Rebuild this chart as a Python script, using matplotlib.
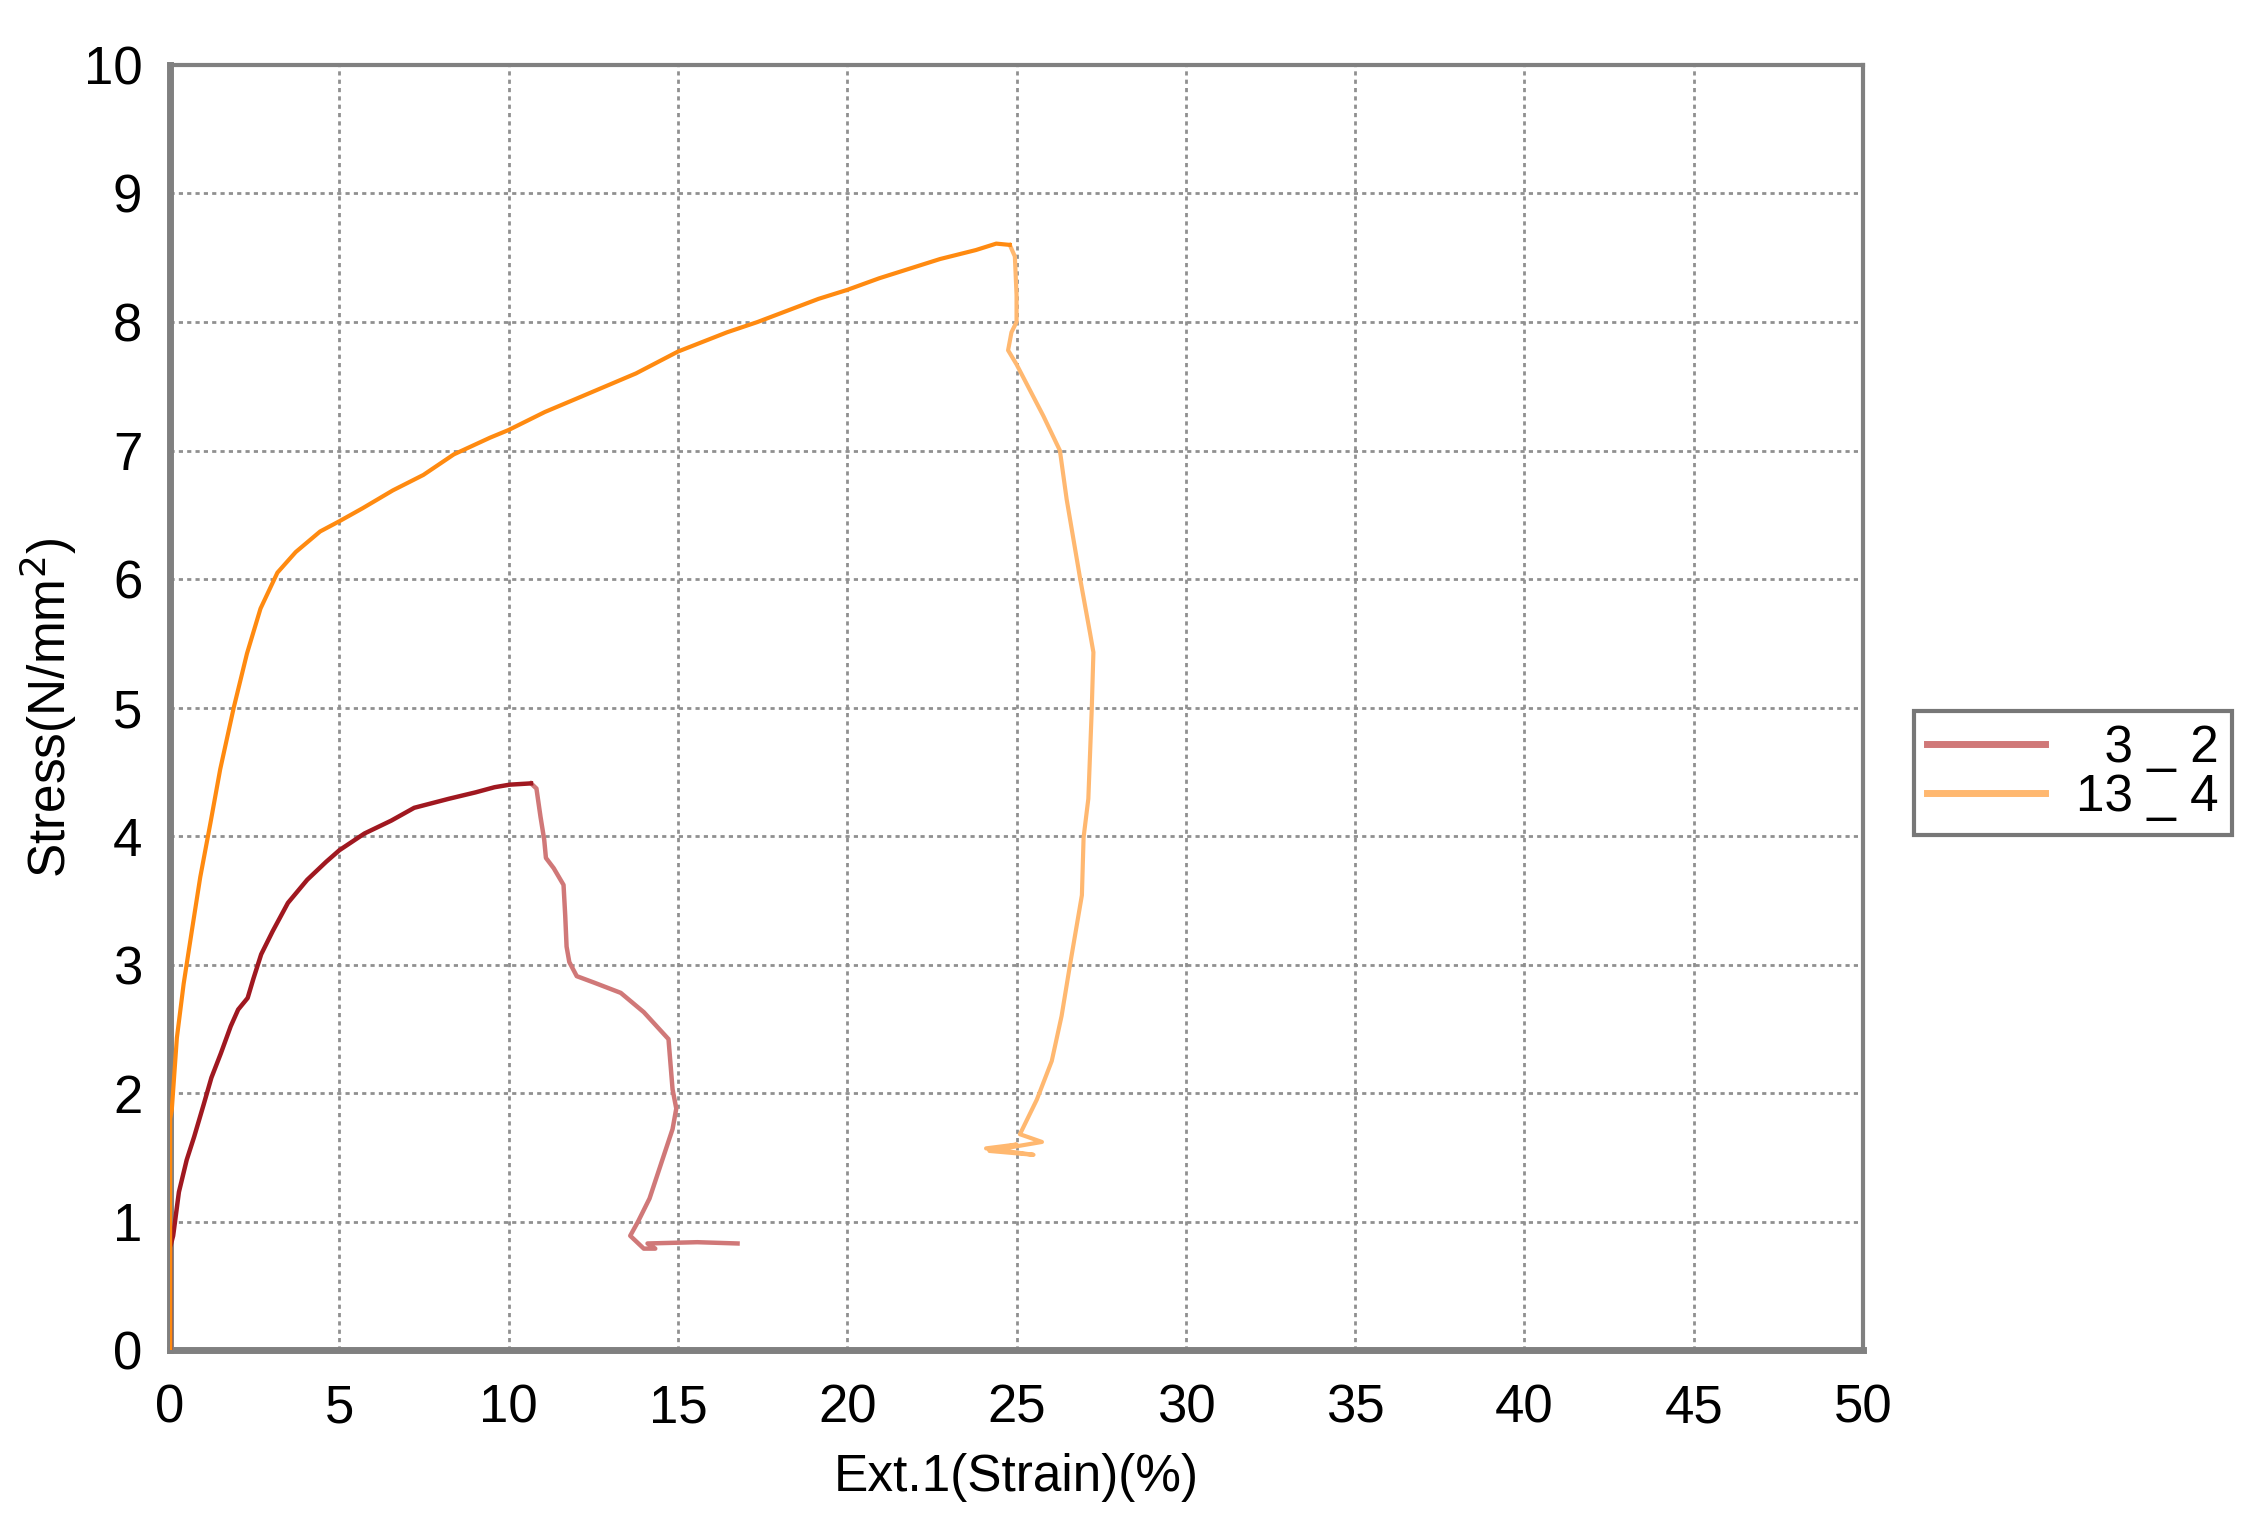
import matplotlib
matplotlib.use("Agg")
import matplotlib.pyplot as plt

plt.rcParams['font.family'] = ['Liberation Sans', 'DejaVu Sans']

# Series 3_2
s32_rise_x = [0, 0, 0.09, 0.26, 0.49, 0.71, 0.99, 1.22, 1.5, 1.79, 2.01, 2.29, 2.46, 2.69, 3.03, 3.48,
              4.05, 4.61, 5.0, 5.74, 6.53, 7.21, 8.23, 9.02, 9.58, 10.03, 10.66]
s32_rise_y = [0, 0.8, 0.89, 1.23, 1.48, 1.66, 1.91, 2.12, 2.31, 2.52, 2.65, 2.74, 2.89, 3.08, 3.26, 3.48,
              3.66, 3.8, 3.89, 4.02, 4.12, 4.22, 4.29, 4.34, 4.38, 4.4, 4.41]
s32_fall_x = [10.66, 10.82, 10.94, 11.05, 11.1, 11.33, 11.62, 11.67, 11.71, 11.79, 12.01, 12.52, 13.31,
              13.99, 14.72, 14.84, 14.95, 14.84, 14.5, 14.16, 13.82, 13.59, 13.99, 14.33, 14.1, 15.57, 16.76]
s32_fall_y = [4.41, 4.37, 4.15, 3.97, 3.83, 3.75, 3.62, 3.38, 3.14, 3.02, 2.91, 2.86, 2.78,
              2.63, 2.42, 2.03, 1.88, 1.72, 1.45, 1.18, 1.0, 0.89, 0.79, 0.79, 0.83, 0.84, 0.83]

# Series 13_4
s134_rise_x = [0, 0, 0.05, 0.2, 0.4, 0.64, 0.89, 1.19, 1.48, 1.88, 2.27, 2.67, 3.17, 3.71, 4.43, 5.0,
               5.68, 6.58, 7.48, 8.38, 9.45, 10.0, 11.07, 11.97, 13.76, 15.0, 16.45, 17.35, 19.15,
               20.0, 20.94, 22.74, 23.8, 24.4, 24.8]
s134_rise_y = [0, 1.8, 1.87, 2.43, 2.85, 3.26, 3.68, 4.1, 4.52, 5.0, 5.42, 5.77, 6.05, 6.21, 6.37, 6.45,
               6.55, 6.69, 6.81, 6.97, 7.10, 7.16, 7.30, 7.40, 7.60, 7.77, 7.92, 8.0, 8.18,
               8.25, 8.34, 8.49, 8.56, 8.61, 8.6]
s134_fall_x = [24.8, 24.95, 25.0, 25.0, 24.85, 24.75, 25.0, 25.79, 26.28, 26.48, 26.88, 27.17, 27.27,
               27.22, 27.12, 26.98, 26.93, 26.58, 26.33, 26.04, 25.6, 25.1, 25.75, 24.2, 25.5, 24.1,
               25.0, 24.3]
s134_fall_y = [8.6, 8.51, 8.21, 8.0, 7.92, 7.78, 7.67, 7.27, 7.0, 6.62, 6.0, 5.58, 5.43,
               4.98, 4.29, 3.99, 3.54, 3.0, 2.6, 2.25, 1.95, 1.68, 1.62, 1.55, 1.52, 1.57,
               1.60, 1.56]

labels = ["  3 _ 2", "13 _ 4"]
x_ticks = [0, 5, 10, 15, 20, 25, 30, 35, 40, 45, 50]
y_ticks = [0, 1, 2, 3, 4, 5, 6, 7, 8, 9, 10]

fig = plt.figure(figsize=(22.56, 15.36), dpi=100)
ax = fig.add_axes([0.0754, 0.121, 0.7504, 0.8367])

red_light = '#d07878'
red_dark = '#a01820'
or_light = '#ffb870'
or_dark = '#ff8a10'

ax.plot(s32_fall_x, s32_fall_y, color=red_light, lw=3.2, label=labels[0], zorder=3)
ax.plot(s32_rise_x, s32_rise_y, color=red_dark, lw=3.2, zorder=4)
ax.plot(s134_fall_x, s134_fall_y, color=or_light, lw=3.0, label=labels[1], zorder=3)
ax.plot(s134_rise_x, s134_rise_y, color=or_dark, lw=3.0, zorder=4)

ax.set_xlim(0, 50)
ax.set_ylim(0, 10)
ax.set_xticks(x_ticks)
ax.set_yticks(y_ticks)
ax.tick_params(axis='x', length=0, labelsize=38, pad=24)
ax.tick_params(axis='y', length=0, labelsize=38, pad=20)
ax.grid(True, color='#909090', linestyle=(0, (1.5, 1.5)), lw=2.0)

for side in ['left', 'bottom']:
    ax.spines[side].set_color('#808080')
    ax.spines[side].set_linewidth(5)
for side in ['top', 'right']:
    ax.spines[side].set_color('#808080')
    ax.spines[side].set_linewidth(3)

ax.set_xlabel("Ext.1(Strain)(%)", fontsize=37, labelpad=14)
ax.set_ylabel("Stress(N/mm$^2$)", fontsize=37)
ax.yaxis.set_label_coords(-0.054, 0.5)

leg = ax.legend(loc='center left', bbox_to_anchor=(1.015, 0.449), fontsize=37,
                frameon=True, fancybox=False, handlelength=2.3, handletextpad=0.6,
                borderpad=0.25, labelspacing=0.0)
leg.get_frame().set_edgecolor('#555555')
leg.get_frame().set_linewidth(3)
for line in leg.get_lines():
    line.set_linewidth(5)

fig.savefig("out.png", dpi=100)
